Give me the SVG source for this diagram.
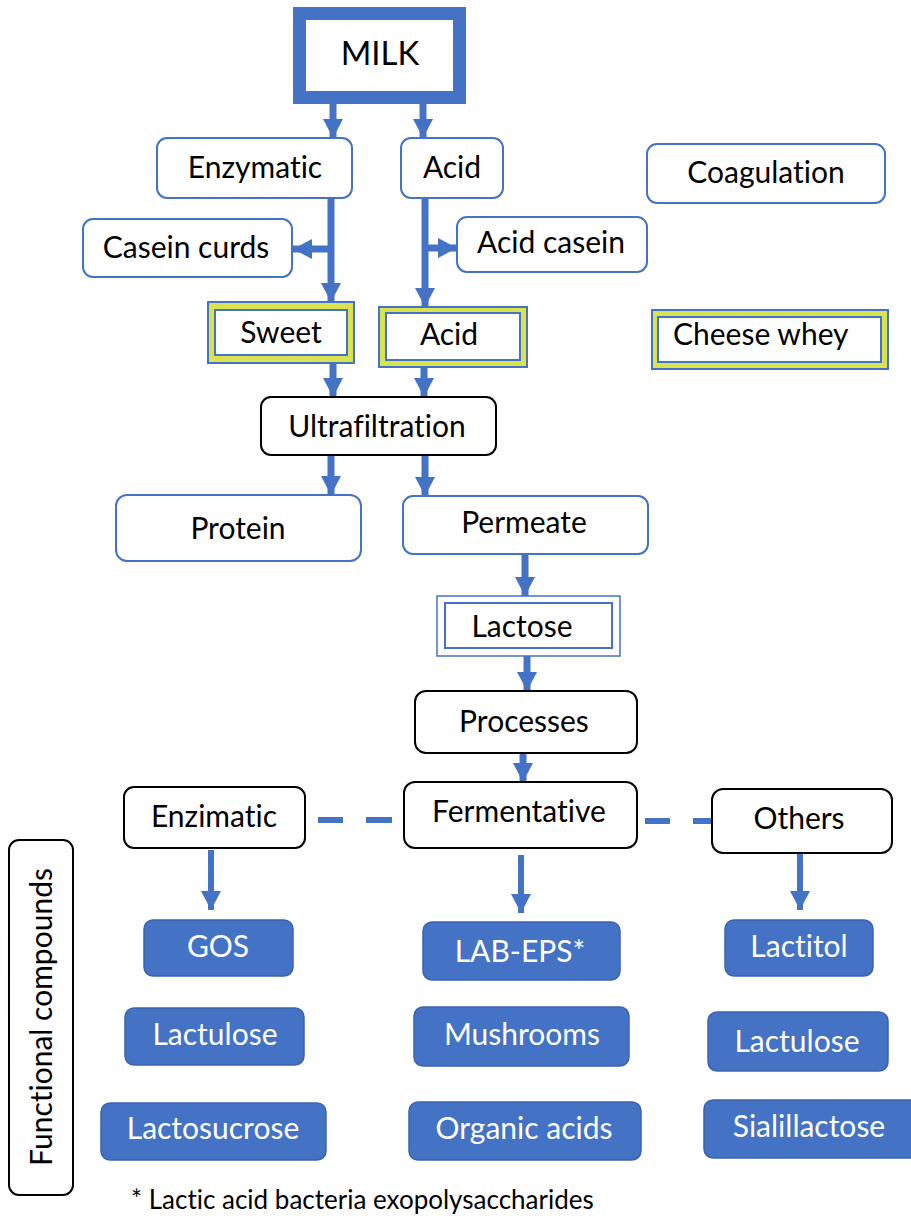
<svg xmlns="http://www.w3.org/2000/svg" width="911" height="1216" viewBox="0 0 911 1216">
<defs>
<style>
text{font-family:Lato,"Liberation Sans",sans-serif;font-size:30px;fill:#000;text-anchor:middle;font-variant-ligatures:none;font-feature-settings:"liga" 0,"dlig" 0}
.wt{fill:#fff}
.bb{fill:#fff;stroke:#4472c4;stroke-width:2}
.kb{fill:#fff;stroke:#000;stroke-width:2}
.fb{fill:#4472c4;stroke:#3b64ad;stroke-width:1.5}
.yo{fill:#dbe250;stroke:#4472c4;stroke-width:2}
.ln{stroke:#4472c4;stroke-width:7;fill:none}
.ln2{stroke:#4472c4;stroke-width:6;fill:none}
.dash{stroke:#4472c4;stroke-width:6;fill:none}
</style>
<marker id="ah" markerUnits="userSpaceOnUse" markerWidth="20" markerHeight="20" refX="19" refY="10" orient="auto" viewBox="0 0 20 20">
<path d="M0,0 L19,10 L0,20 Z" fill="#4472c4"/>
</marker>
</defs>

<g id="connectors">
<line class="ln" x1="333" y1="104" x2="333" y2="138" marker-end="url(#ah)"/>
<line class="ln" x1="423" y1="104" x2="423" y2="138" marker-end="url(#ah)"/>
<line class="ln" x1="331" y1="198" x2="331" y2="302" marker-end="url(#ah)"/>
<line class="ln" x1="334" y1="249" x2="293" y2="249" marker-end="url(#ah)"/>
<line class="ln" x1="425" y1="198" x2="425" y2="307" marker-end="url(#ah)"/>
<line class="ln" x1="422" y1="248" x2="457" y2="248" marker-end="url(#ah)"/>
<line class="ln" x1="333" y1="363" x2="333" y2="397" marker-end="url(#ah)"/>
<line class="ln" x1="424" y1="367" x2="424" y2="397" marker-end="url(#ah)"/>
<line class="ln" x1="331" y1="455" x2="331" y2="495" marker-end="url(#ah)"/>
<line class="ln" x1="425" y1="455" x2="425" y2="496" marker-end="url(#ah)"/>
<line class="ln" x1="525" y1="554" x2="525" y2="596" marker-end="url(#ah)"/>
<line class="ln" x1="527" y1="656" x2="527" y2="691" marker-end="url(#ah)"/>
<line class="ln" x1="523" y1="753" x2="523" y2="782" marker-end="url(#ah)"/>
<line class="ln2" x1="211" y1="850" x2="211" y2="910" marker-end="url(#ah)"/>
<line class="ln2" x1="521" y1="855" x2="521" y2="913" marker-end="url(#ah)"/>
<line class="ln2" x1="800" y1="853" x2="800" y2="910" marker-end="url(#ah)"/>
<line class="dash" x1="318" y1="820" x2="343" y2="820"/>
<line class="dash" x1="366" y1="820" x2="392" y2="820"/>
<line class="dash" x1="645" y1="821" x2="670" y2="821"/>
<line class="dash" x1="693" y1="821" x2="713" y2="821"/>
</g>

<g id="milk">
<rect x="299.5" y="13.5" width="160" height="84" fill="#fff" stroke="#4472c4" stroke-width="13"/>
<text x="380" y="65" style="font-size:33px">MILK</text>
</g>
<g id="enzymatic">
<rect class="bb" x="157" y="138" width="195" height="60" rx="10"/>
<text x="255" y="178">Enzymatic</text>
</g>
<g id="acid">
<rect class="bb" x="401" y="138" width="102" height="60" rx="10"/>
<text x="452" y="178">Acid</text>
</g>
<g id="coagulation">
<rect class="bb" x="647" y="144" width="238" height="59" rx="10"/>
<text x="766" y="183">Coagulation</text>
</g>
<g id="casein-curds">
<rect class="bb" x="83" y="219" width="209" height="58" rx="10"/>
<text x="186" y="258">Casein curds</text>
</g>
<g id="acid-casein">
<rect class="bb" x="457" y="217" width="190" height="55" rx="10"/>
<text x="551" y="253">Acid casein</text>
</g>
<g id="sweet">
<rect class="yo" x="208" y="302" width="146" height="61"/>
<rect class="bb" x="215" y="310" width="132" height="45"/>
<text x="281" y="343">Sweet</text>
</g>
<g id="acid-whey">
<rect class="yo" x="379" y="307" width="148" height="60"/>
<rect class="bb" x="386" y="313" width="134" height="47"/>
<text x="449" y="345">Acid</text>
</g>
<g id="cheese-whey">
<rect class="yo" x="652" y="310" width="236" height="59"/>
<rect class="bb" x="658" y="317" width="223" height="45"/>
<text x="673" y="345" style="text-anchor:start">Cheese whey</text>
</g>
<g id="ultrafiltration">
<rect class="kb" x="261" y="397" width="235" height="58" rx="10"/>
<text x="377" y="437">Ultrafiltration</text>
</g>
<g id="protein">
<rect class="bb" x="116" y="495" width="245" height="66" rx="11"/>
<text x="238" y="539">Protein</text>
</g>
<g id="permeate">
<rect class="bb" x="403" y="496" width="245" height="58" rx="10"/>
<text x="524" y="533">Permeate</text>
</g>
<g id="lactose">
<rect x="437" y="596" width="183" height="60" fill="#fff" stroke="#4472c4" stroke-width="1.5"/>
<rect x="445" y="603" width="167" height="45" fill="none" stroke="#4472c4" stroke-width="2"/>
<text x="522" y="637">Lactose</text>
</g>
<g id="processes">
<rect class="kb" x="415" y="691" width="222" height="62" rx="11"/>
<text x="524" y="732">Processes</text>
</g>
<g id="enzimatic">
<rect class="kb" x="124" y="787" width="181" height="61" rx="10"/>
<text x="214" y="827">Enzimatic</text>
</g>
<g id="fermentative">
<rect class="kb" x="404" y="782" width="233" height="66" rx="11"/>
<text x="519" y="822">Fermentative</text>
</g>
<g id="others">
<rect class="kb" x="712" y="789" width="180" height="64" rx="11"/>
<text x="799" y="829">Others</text>
</g>
<g id="functional-compounds">
<rect class="kb" x="9" y="840" width="64" height="355" rx="10"/>
<text transform="translate(52,1017) rotate(-90)" x="0" y="0">Functional compounds</text>
</g>
<g id="gos">
<rect class="fb" x="144" y="920" width="149" height="56" rx="9"/>
<text class="wt" x="218" y="957">GOS</text>
</g>
<g id="lactulose-1">
<rect class="fb" x="125" y="1008" width="179" height="57" rx="9"/>
<text class="wt" x="215" y="1045">Lactulose</text>
</g>
<g id="lactosucrose">
<rect class="fb" x="101" y="1103" width="225" height="57" rx="9"/>
<text class="wt" x="213" y="1139">Lactosucrose</text>
</g>
<g id="lab-eps">
<rect class="fb" x="423" y="922" width="197" height="58" rx="9"/>
<text class="wt" x="520" y="962">LAB-EPS*</text>
</g>
<g id="mushrooms">
<rect class="fb" x="414" y="1007" width="215" height="59" rx="9"/>
<text class="wt" x="522" y="1045">Mushrooms</text>
</g>
<g id="organic-acids">
<rect class="fb" x="409" y="1102" width="232" height="58" rx="9"/>
<text class="wt" x="524" y="1139">Organic acids</text>
</g>
<g id="lactitol">
<rect class="fb" x="725" y="920" width="148" height="56" rx="9"/>
<text class="wt" x="799" y="957">Lactitol</text>
</g>
<g id="lactulose-2">
<rect class="fb" x="708" y="1012" width="180" height="59" rx="9"/>
<text class="wt" x="797" y="1052">Lactulose</text>
</g>
<g id="sialillactose">
<rect class="fb" x="704" y="1100" width="220" height="58" rx="9"/>
<text class="wt" x="809" y="1137">Sialillactose</text>
</g>
<g id="footnote">
<text x="131" y="1209" style="text-anchor:start;font-size:26px">* Lactic acid bacteria exopolysaccharides</text>
</g>
</svg>
